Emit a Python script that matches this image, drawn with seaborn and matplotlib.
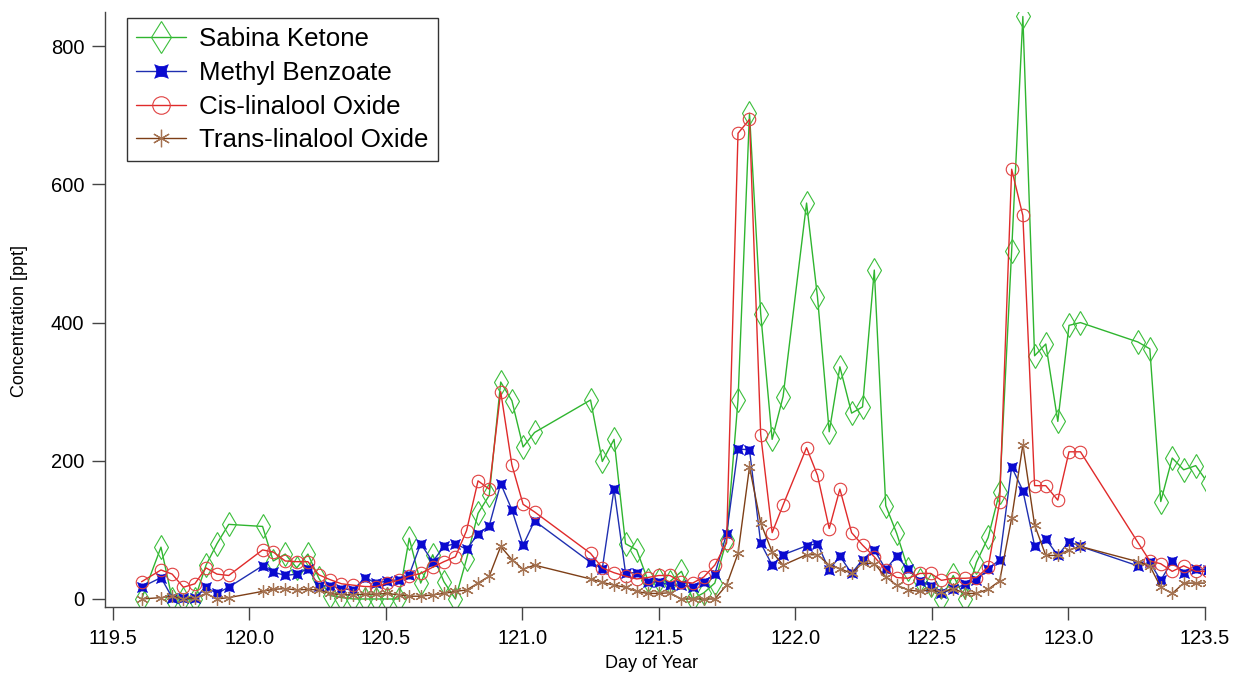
import numpy as np
import pandas as pd
import matplotlib
matplotlib.use("Agg")
import matplotlib.pyplot as plt
import seaborn as sns
from matplotlib.path import Path

# ---------------- data ----------------
day = [
    119.606, 119.677, 119.718, 119.759, 119.801, 119.842, 119.882, 119.925,
    120.049, 120.088, 120.132, 120.174, 120.215, 120.255, 120.296, 120.338,
    120.381, 120.424, 120.464, 120.506, 120.547, 120.586, 120.628, 120.672,
    120.713, 120.755, 120.796, 120.838, 120.879, 120.921, 120.962, 121.003,
    121.045,
    121.250, 121.293, 121.336, 121.378, 121.419, 121.459, 121.500, 121.540,
    121.583, 121.624, 121.665, 121.705, 121.748, 121.790, 121.832, 121.873,
    121.915, 121.955,
    122.041, 122.081, 122.124, 122.163, 122.206, 122.246, 122.289, 122.331,
    122.371, 122.413, 122.456, 122.495, 122.535, 122.578, 122.622, 122.663,
    122.706, 122.748, 122.792, 122.833, 122.876, 122.917, 122.961, 123.002,
    123.044,
    123.254, 123.298, 123.338, 123.380, 123.422, 123.466, 123.510,
]

sabina_ketone = [
    0, 75, 0, 0, 0, 49, 80, 108,
    105, 55, 65, 45, 65, 30, 5, 2,
    0, 0, 0, 0, 0, 88, 23, 64,
    25, 0, 58, 124, 150, 314, 287, 220,
    241,
    288, 199, 231, 80, 71, 28, 28, 25,
    40, 0, 9, 23, 85, 288, 703, 413,
    231, 293,
    573, 437, 242, 336, 269, 278, 476, 135,
    95, 43, 27, 20, 0, 34, 0, 53,
    89, 155, 504, 843, 352, 369, 257, 396,
    400,
    372, 362, 141, 204, 187, 193, 168,
]

methyl_benzoate = [
    17, 31, 2, 2, 2, 17, 8, 17,
    48, 39, 34, 36, 44, 19, 19, 15,
    13, 31, 23, 26, 28, 35, 80, 54,
    76, 80, 72, 94, 106, 167, 129, 78,
    113,
    53, 44, 159, 38, 38, 24, 25, 20,
    20, 18, 25, 36, 94, 217, 216, 81,
    49, 64,
    77, 80, 42, 62, 37, 57, 71, 43,
    62, 43, 26, 19, 8, 15, 21, 28,
    43, 57, 191, 157, 77, 87, 63, 83,
    76,
    48, 53, 27, 55, 37, 43, 42,
]

cis_linalool_oxide = [
    25, 42, 36, 17, 22, 45, 36, 34,
    71, 68, 55, 54, 54, 35, 28, 22,
    20, 18, 18, 23, 27, 33, 37, 46,
    54, 61, 99, 171, 159, 300, 194, 137,
    126,
    66, 45, 38, 33, 29, 31, 34, 34,
    25, 23, 32, 49, 81, 674, 694, 238,
    96, 136,
    219, 179, 102, 159, 96, 78, 61, 42,
    31, 30, 37, 37, 27, 30, 30, 31,
    46, 140, 622, 555, 164, 164, 143, 213,
    213,
    82, 55, 51, 40, 48, 40, 40,
]

trans_linalool_oxide = [
    0, 2, 4, 0, 1, 8, 0, 2,
    11, 14, 15, 13, 14, 13, 8, 6,
    6, 7, 7, 8, 6, 4, 4, 6,
    8, 11, 13, 23, 33, 76, 57, 43,
    49,
    29, 24, 20, 17, 11, 8, 8, 9,
    0, 0, 0, 0, 20, 66, 191, 110,
    68, 49,
    64, 64, 49, 44, 37, 52, 51, 32,
    20, 13, 11, 13, 10, 15, 8, 8,
    14, 26, 117, 223, 107, 63, 63, 71,
    76,
    54, 48, 17, 8, 23, 23, 23,
]

series_names = ["Sabina Ketone", "Methyl Benzoate",
                "Cis-linalool Oxide", "Trans-linalool Oxide"]
x_ticks = [119.5, 120.0, 120.5, 121.0, 121.5, 122.0, 122.5, 123.0, 123.5]
y_ticks = [0, 200, 400, 600, 800]

df = pd.DataFrame({
    "Day": day,
    series_names[0]: sabina_ketone,
    series_names[1]: methyl_benzoate,
    series_names[2]: cis_linalool_oxide,
    series_names[3]: trans_linalool_oxide,
})

# ---------------- style ----------------
sns.set_theme(style="ticks")
plt.rcParams["font.family"] = ["Liberation Sans", "DejaVu Sans"]
plt.rcParams["text.color"] = "black"

# concave-sided filled square marker (Igor style)
k = 0.4
concave_sq = Path(
    [(1, 1), (0, k), (-1, 1), (-k, 0), (-1, -1), (0, -k), (1, -1), (k, 0), (1, 1), (1, 1)],
    [Path.MOVETO, Path.CURVE3, Path.CURVE3, Path.CURVE3, Path.CURVE3,
     Path.CURVE3, Path.CURVE3, Path.CURVE3, Path.CURVE3, Path.CLOSEPOLY],
)

styles = {
    "Sabina Ketone": dict(color="#2fb52f", marker="d", markersize=12,
                          markerfacecolor="none", markeredgecolor="#3cbf3c",
                          markeredgewidth=0.8),
    "Methyl Benzoate": dict(color="#1f2fb0", marker=concave_sq, markersize=7,
                            markerfacecolor="#0a0ad0", markeredgecolor="#0a0ad0",
                            markeredgewidth=0.6),
    "Cis-linalool Oxide": dict(color="#e02a2a", marker="o", markersize=9,
                               markerfacecolor="none", markeredgecolor="#e04040",
                               markeredgewidth=0.8),
    "Trans-linalool Oxide": dict(color="#7e3f17", marker=(6, 2, 0), markersize=9,
                                 markerfacecolor="none", markeredgecolor="#a57352",
                                 markeredgewidth=0.9),
}

fig = plt.figure(figsize=(12.36, 6.82), dpi=100)
ax = fig.add_axes([105 / 1236, 75 / 682, 1100 / 1236, 595 / 682])

for name in series_names:
    st = styles[name]
    sns.lineplot(data=df, x="Day", y=name, ax=ax, label=name,
                 estimator=None, sort=False, linewidth=1.0, **st)

ax.set_xlim(119.472, 123.5)
ax.set_ylim(-11.6, 849.5)
ax.set_xticks(x_ticks)
ax.set_xticklabels([f"{t:.1f}" for t in x_ticks])
ax.set_yticks(y_ticks)
ax.set_yticklabels([str(t) for t in y_ticks])

for s in ["top", "right"]:
    ax.spines[s].set_visible(False)
for s in ["left", "bottom"]:
    ax.spines[s].set_color("#444444")
    ax.spines[s].set_linewidth(1.0)

ax.tick_params(axis="both", direction="out", length=9.5, width=1.0,
               color="#444444", labelsize=14.5, labelcolor="black")
ax.tick_params(axis="x", pad=6.5)
ax.tick_params(axis="y", pad=5.5)

ax.set_xlabel("Day of Year", fontsize=13, color="black")
ax.set_ylabel("Concentration [ppt]", fontsize=13, color="black")
ax.xaxis.set_label_coords(0.497, -0.080)
ax.yaxis.set_label_coords(-0.070, 0.48)

leg = ax.legend(loc="upper left", bbox_to_anchor=(0.02, 0.99),
                borderaxespad=0, fontsize=18.6, frameon=True, fancybox=False,
                handlelength=1.95, handletextpad=0.5, labelspacing=0.38,
                borderpad=0.35, markerscale=1.4, labelcolor="black")
leg.get_frame().set_edgecolor("#333333")
leg.get_frame().set_linewidth(1.0)
leg.get_frame().set_alpha(1.0)

ax.grid(False)
fig.savefig("out.png", dpi=100)
